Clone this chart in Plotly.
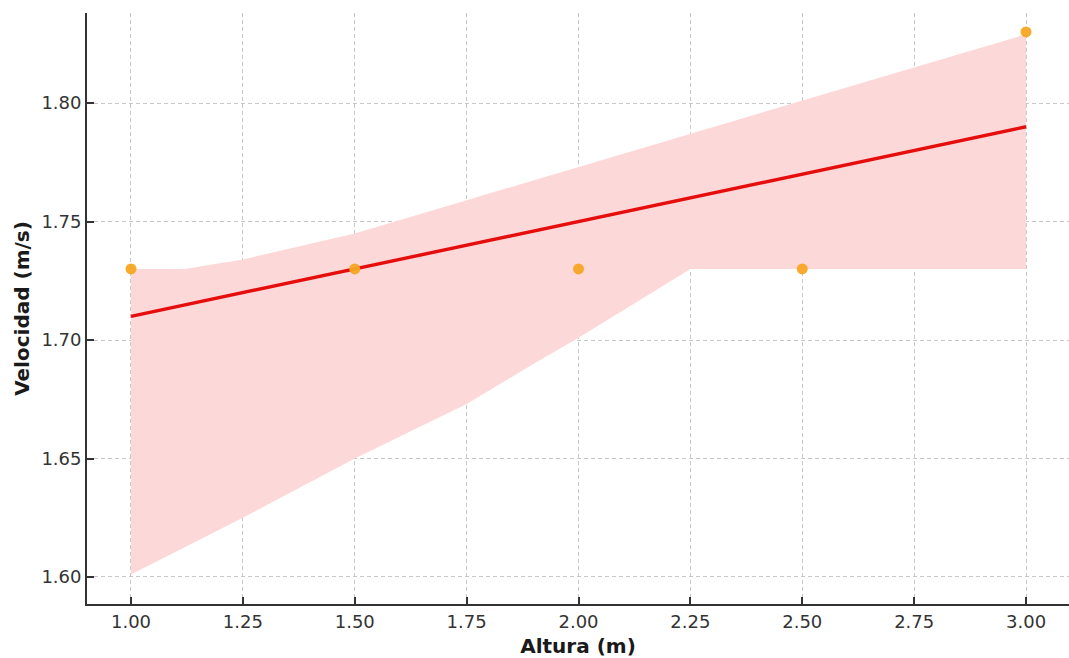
import plotly.graph_objects as go

# Data points
altura = [1.0, 1.5, 2.0, 2.5, 3.0]
velocidad = [1.73, 1.73, 1.73, 1.73, 1.83]

# Regression line
fit_x = [1.0, 3.0]
fit_y = [1.71, 1.79]

# Confidence band (upper and lower boundaries)
upper_x = [1.0, 1.12, 1.25, 1.5, 1.75, 2.0, 2.25, 2.5, 2.75, 3.0]
upper_y = [1.730, 1.730, 1.734, 1.745, 1.759, 1.773, 1.787, 1.801, 1.815, 1.829]
lower_x = [1.0, 1.25, 1.5, 1.75, 1.9, 2.0, 2.25, 3.0]
lower_y = [1.601, 1.625, 1.650, 1.673, 1.690, 1.701, 1.730, 1.730]

x_ticks = [1.0, 1.25, 1.5, 1.75, 2.0, 2.25, 2.5, 2.75, 3.0]
y_ticks = [1.60, 1.65, 1.70, 1.75, 1.80]

band_x = upper_x + lower_x[::-1]
band_y = upper_y + lower_y[::-1]

fig = go.Figure()
fig.add_trace(go.Scatter(x=band_x, y=band_y, mode="lines", fill="toself",
                         fillcolor="#fdd8d8", line=dict(width=0),
                         hoverinfo="skip", showlegend=False))
fig.add_trace(go.Scatter(x=fit_x, y=fit_y, mode="lines",
                         line=dict(color="#e60d0d", width=3.4), showlegend=False))
fig.add_trace(go.Scatter(x=altura, y=velocidad, mode="markers",
                         marker=dict(color="#f5a623", size=11, opacity=0.95),
                         showlegend=False))

axis_common = dict(
    showline=True, linecolor="#333333", linewidth=1.8,
    ticks="inside", ticklen=7, tickcolor="#333333", tickwidth=1.5,
    showgrid=True, gridcolor="#c8c8c8", gridwidth=0.9, griddash="4px,3px",
    zeroline=False, mirror=False,
    tickfont=dict(family="DejaVu Sans", size=18, color="#333333"),
)

fig.update_xaxes(**axis_common, range=[0.9017, 3.096], tickvals=x_ticks,
                 ticktext=[f"{v:.2f}" for v in x_ticks],
                 title=dict(text="<b>Altura (m)</b>", standoff=9,
                            font=dict(family="DejaVu Sans", size=20, color="#1a1a1a")))
fig.update_yaxes(**axis_common, range=[1.5886, 1.838], tickvals=y_ticks,
                 ticktext=[f"{v:.2f}" for v in y_ticks],
                 title=dict(text="<b>Velocidad (m/s)</b>", standoff=6,
                            font=dict(family="DejaVu Sans", size=20, color="#1a1a1a")))

fig.update_layout(
    width=1069, height=658,
    margin=dict(l=87, r=0, t=13, b=54),
    plot_bgcolor="white", paper_bgcolor="white",
    showlegend=False,
)

fig.write_html("out.html", config={"displayModeBar": False},
               post_script="document.body.style.margin='0';document.body.style.overflow='hidden';")
